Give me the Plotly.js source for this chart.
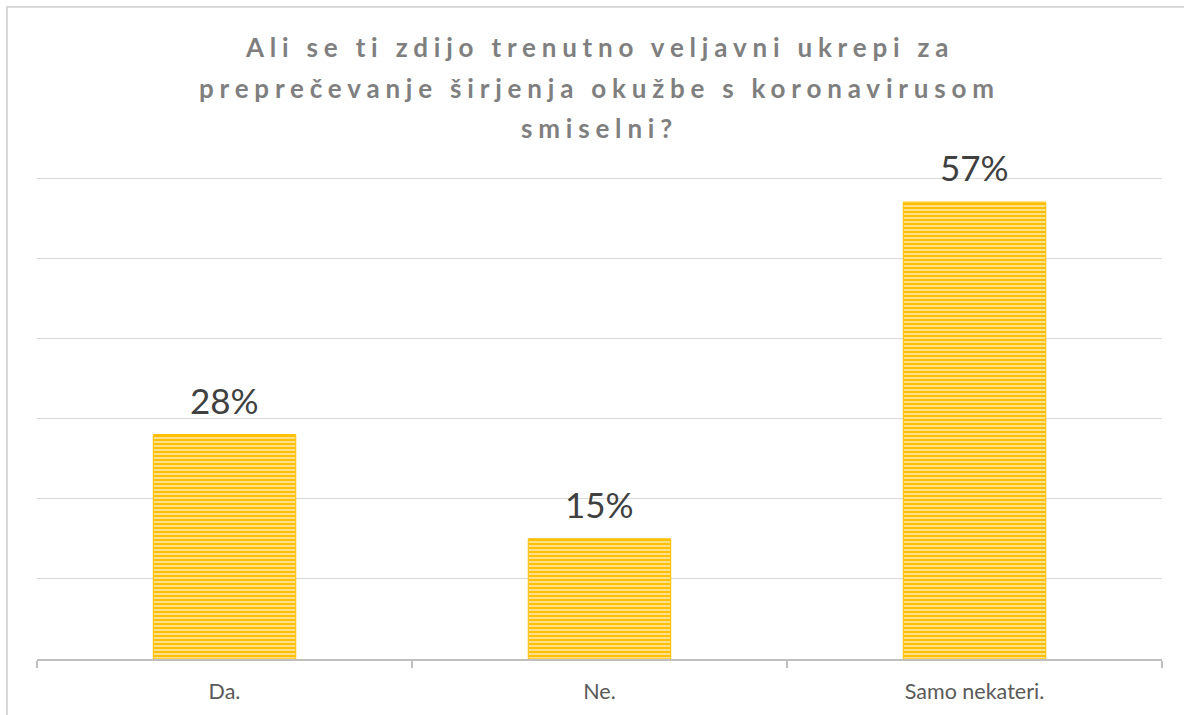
<!DOCTYPE html>
<html>
<head>
<meta charset="utf-8">
<script src="https://cdn.plot.ly/plotly-3.0.1.min.js"></script>
<style>
  html, body { margin: 0; padding: 0; background: #fff; overflow: hidden; }
  #chart { width: 1184px; height: 715px; }
  #frame {
    position: absolute; left: 6px; top: 6px; width: 1300px; height: 800px;
    border: 2px solid #d9d9d9; pointer-events: none;
  }
</style>
</head>
<body>
<div id="chart"></div>
<div id="frame"></div>
<script>
const categories = ['Da.', 'Ne.', 'Samo nekateri.'];
const shares = [0.28, 0.15, 0.57];
const labels = ['28%', '15%', '57%'];
const titleLines = [
  'Ali se ti zdijo trenutno veljavni ukrepi za',
  'preprečevanje širjenja okužbe s koronavirusom',
  'smiselni?',
];

const container = document.getElementById('chart');

const traces = [
  {
    x: categories,
    y: shares,
    type: 'bar',
    marker: {
      color: '#FFC000',
      pattern: { shape: '-', fgcolor: '#FFC000', bgcolor: '#FFE39A', size: 4, solidity: 0.55 },
      line: { color: '#FFC000', width: 1 },
    },
    hoverinfo: 'skip',
  },
];

// title lines sit at fixed heights above the plot area
const titleY = [1.262, 1.177, 1.095];
const titleAnnotations = titleLines.map((line, i) => ({
  text: `<span style="letter-spacing:5.8px">${line}</span>`,
  xref: 'paper',
  yref: 'paper',
  x: 0.5,
  y: titleY[i],
  xanchor: 'center',
  yanchor: 'middle',
  showarrow: false,
  font: { family: 'Lato, "DejaVu Sans", sans-serif', size: 26, color: '#7f7f7f', weight: 'bold' },
}));

const valueAnnotations = categories.map((c, i) => ({
  text: labels[i],
  x: c,
  y: shares[i],
  xref: 'x',
  yref: 'y',
  xanchor: 'center',
  yanchor: 'bottom',
  yshift: 12,
  showarrow: false,
  font: { family: 'Lato, "DejaVu Sans", sans-serif', size: 35, color: '#404040' },
}));

const layout = {
  width: 1184,
  height: 715,
  margin: { l: 37, r: 22, t: 174, b: 56 },
  showlegend: false,
  bargap: 0.62,
  xaxis: {
    type: 'category',
    showline: true,
    linecolor: '#bfbfbf',
    linewidth: 1.5,
    ticks: 'outside',
    tickson: 'boundaries',
    ticklen: 7,
    tickwidth: 1.5,
    tickcolor: '#bfbfbf',
    ticklabelstandoff: 13,
    tickfont: { family: 'Lato, "DejaVu Sans", sans-serif', size: 21.5, color: '#595959' },
    showgrid: false,
  },
  yaxis: {
    range: [0, 0.605],
    dtick: 0.1,
    showticklabels: false,
    showgrid: true,
    gridcolor: '#d9d9d9',
    gridwidth: 1,
    zeroline: false,
    showline: false,
  },
  annotations: titleAnnotations.concat(valueAnnotations),
  plot_bgcolor: '#fff',
  paper_bgcolor: '#fff',
};

Plotly.newPlot(container, traces, layout, { displayModeBar: false, staticPlot: true });
</script>
</body>
</html>
